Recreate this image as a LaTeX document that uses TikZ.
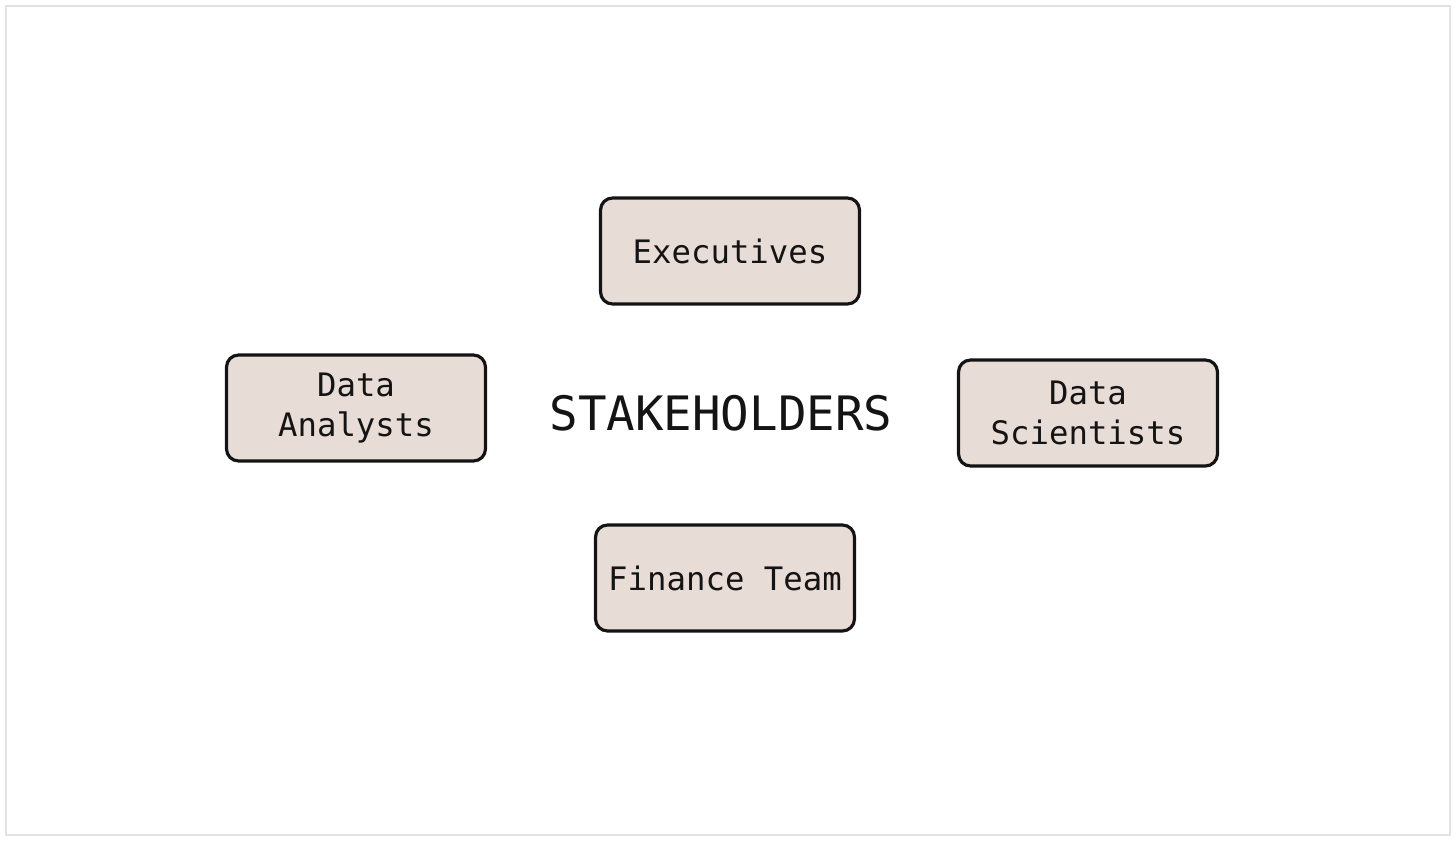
\documentclass[tikz,border=0pt]{standalone}
\usepackage{fontspec}
\setmonofont{DejaVu Sans Mono}
\usetikzlibrary{positioning}
\definecolor{SBeige}{HTML}{E8DCD6}
\definecolor{SInk}{HTML}{141414}
\definecolor{SFrame}{HTML}{E2E2E2}
\tikzset{
    group/.style = {draw=SInk, fill=SBeige, rectangle, rounded corners=0.24cm,
        line width=1.8pt,
        minimum height=2.12cm,
        minimum width=5.18cm,
        align=center, text=SInk,
        font=\ttfamily\fontsize{18.4}{22.7}\selectfont},
    hub/.style = {text=SInk, font=\ttfamily\fontsize{27}{30}\selectfont},
    frame/.style = {draw=SFrame, line width=0.04cm}
}
\begin{document}
\begin{tikzpicture}[x=0.02cm,y=-0.02cm]
        \useasboundingbox (0,0) rectangle (1456,841);
        \draw[frame] (6,6) rectangle (1450,835);
        \node[hub] (stake) at (721,413) {STAKEHOLDERS};
        \node[group] (exec) at (730,251) {Executives};
        \node[group] (analyst) at (356,408) {Data\\Analysts};
        \node[group] (scient) at (1088,413) {Data\\Scientists};
        \node[group] (finance) at (725,578) {Finance Team};
    \end{tikzpicture}
\end{document}
